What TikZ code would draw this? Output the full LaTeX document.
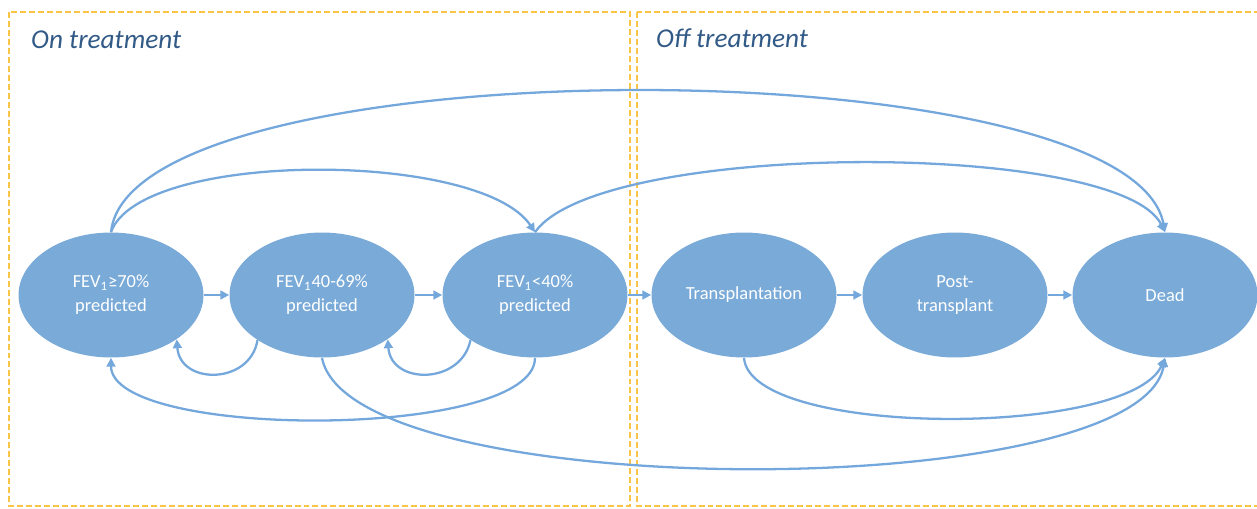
\documentclass[tikz,border=0pt]{standalone}
\usepackage{fontspec}
\setmainfont{Carlito}
\usetikzlibrary{shapes,arrows.meta,positioning,calc}
\definecolor{stateblue}{RGB}{122,170,216}
\definecolor{arrowblue}{RGB}{116,167,220}
\definecolor{titleblue}{RGB}{50,90,135}
\definecolor{boxorange}{RGB}{250,196,72}

\tikzset{
  state/.style={draw=none, ellipse, fill=stateblue, minimum width=3.7cm, minimum height=2.5cm,
    text=white, align=center, font=\fontsize{10.5}{13.5}\selectfont},
  trans/.style={draw=arrowblue, line width=1.3pt, -{Triangle[length=5pt,width=5pt]}},
  phase/.style={draw=boxorange, line width=1pt, dash pattern=on 3.4pt off 1.7pt},
  phasetitle/.style={anchor=west, text=titleblue, font=\fontsize{15.5}{18}\selectfont\itshape}
}

\begin{document}
\begin{tikzpicture}[x=0.02cm, y=-0.02cm]
				\useasboundingbox (0,0) rectangle (1257,508);
				
				% Draw treatment phases
				\draw[phase] (9,12) rectangle (630,506);
				\draw[phase] (637,12) rectangle (1270,506);
				\node[phasetitle] (ontitle) at (25,40) {On treatment};
				\node[phasetitle] (offtitle) at (650,38) {Off treatment};
				
				% Draw health states
				\node[state] (fev70) at (111,295) {FEV\textsubscript{1}≥70\%\\predicted};
				\node[state] (fev40) at (322,295) {FEV\textsubscript{1}40-69\%\\predicted};
				\node[state] (fevlow) at (535,295) {FEV\textsubscript{1}<40\%\\predicted};
				\node[state] (transp) at (744,295) {Transplantation};
				\node[state] (post) at (955,295) {Post-\\transplant};
				\node[state] (dead) at (1165,295) {Dead};
				
				% Draw forward transitions
				\draw[trans] (fev70) -- (fev40);
				\draw[trans] (fev40) -- (fevlow);
				\draw[trans] (fevlow) -- (transp);
				\draw[trans] (transp) -- (post);
				\draw[trans] (post) -- (dead);
				
				% Draw transitions above
				\draw[trans] (fev70.north) .. controls (130,44) and (1130,44) .. (dead.north);
				\draw[trans] (fev70.north) .. controls (140,150) and (480,150) .. (fevlow.north);
				\draw[trans] (fevlow.north) .. controls (600,140) and (1120,140) .. (dead.north);
				
				% Draw transitions below
				\draw[trans] (fev40.215) .. controls (250,385) and (180,385) .. (fev70.-34);
				\draw[trans] (fevlow.215) .. controls (461,385) and (391,385) .. (fev40.-34);
				\draw[trans] (fevlow.south) .. controls (535,440) and (111,440) .. (fev70.south);
				\draw[trans] (fev40.south) .. controls (350,505) and (1140,505) .. (dead.south);
				\draw[trans] (transp.south) .. controls (750,438) and (1130,438) .. (dead.south);
			\end{tikzpicture}
\end{document}
